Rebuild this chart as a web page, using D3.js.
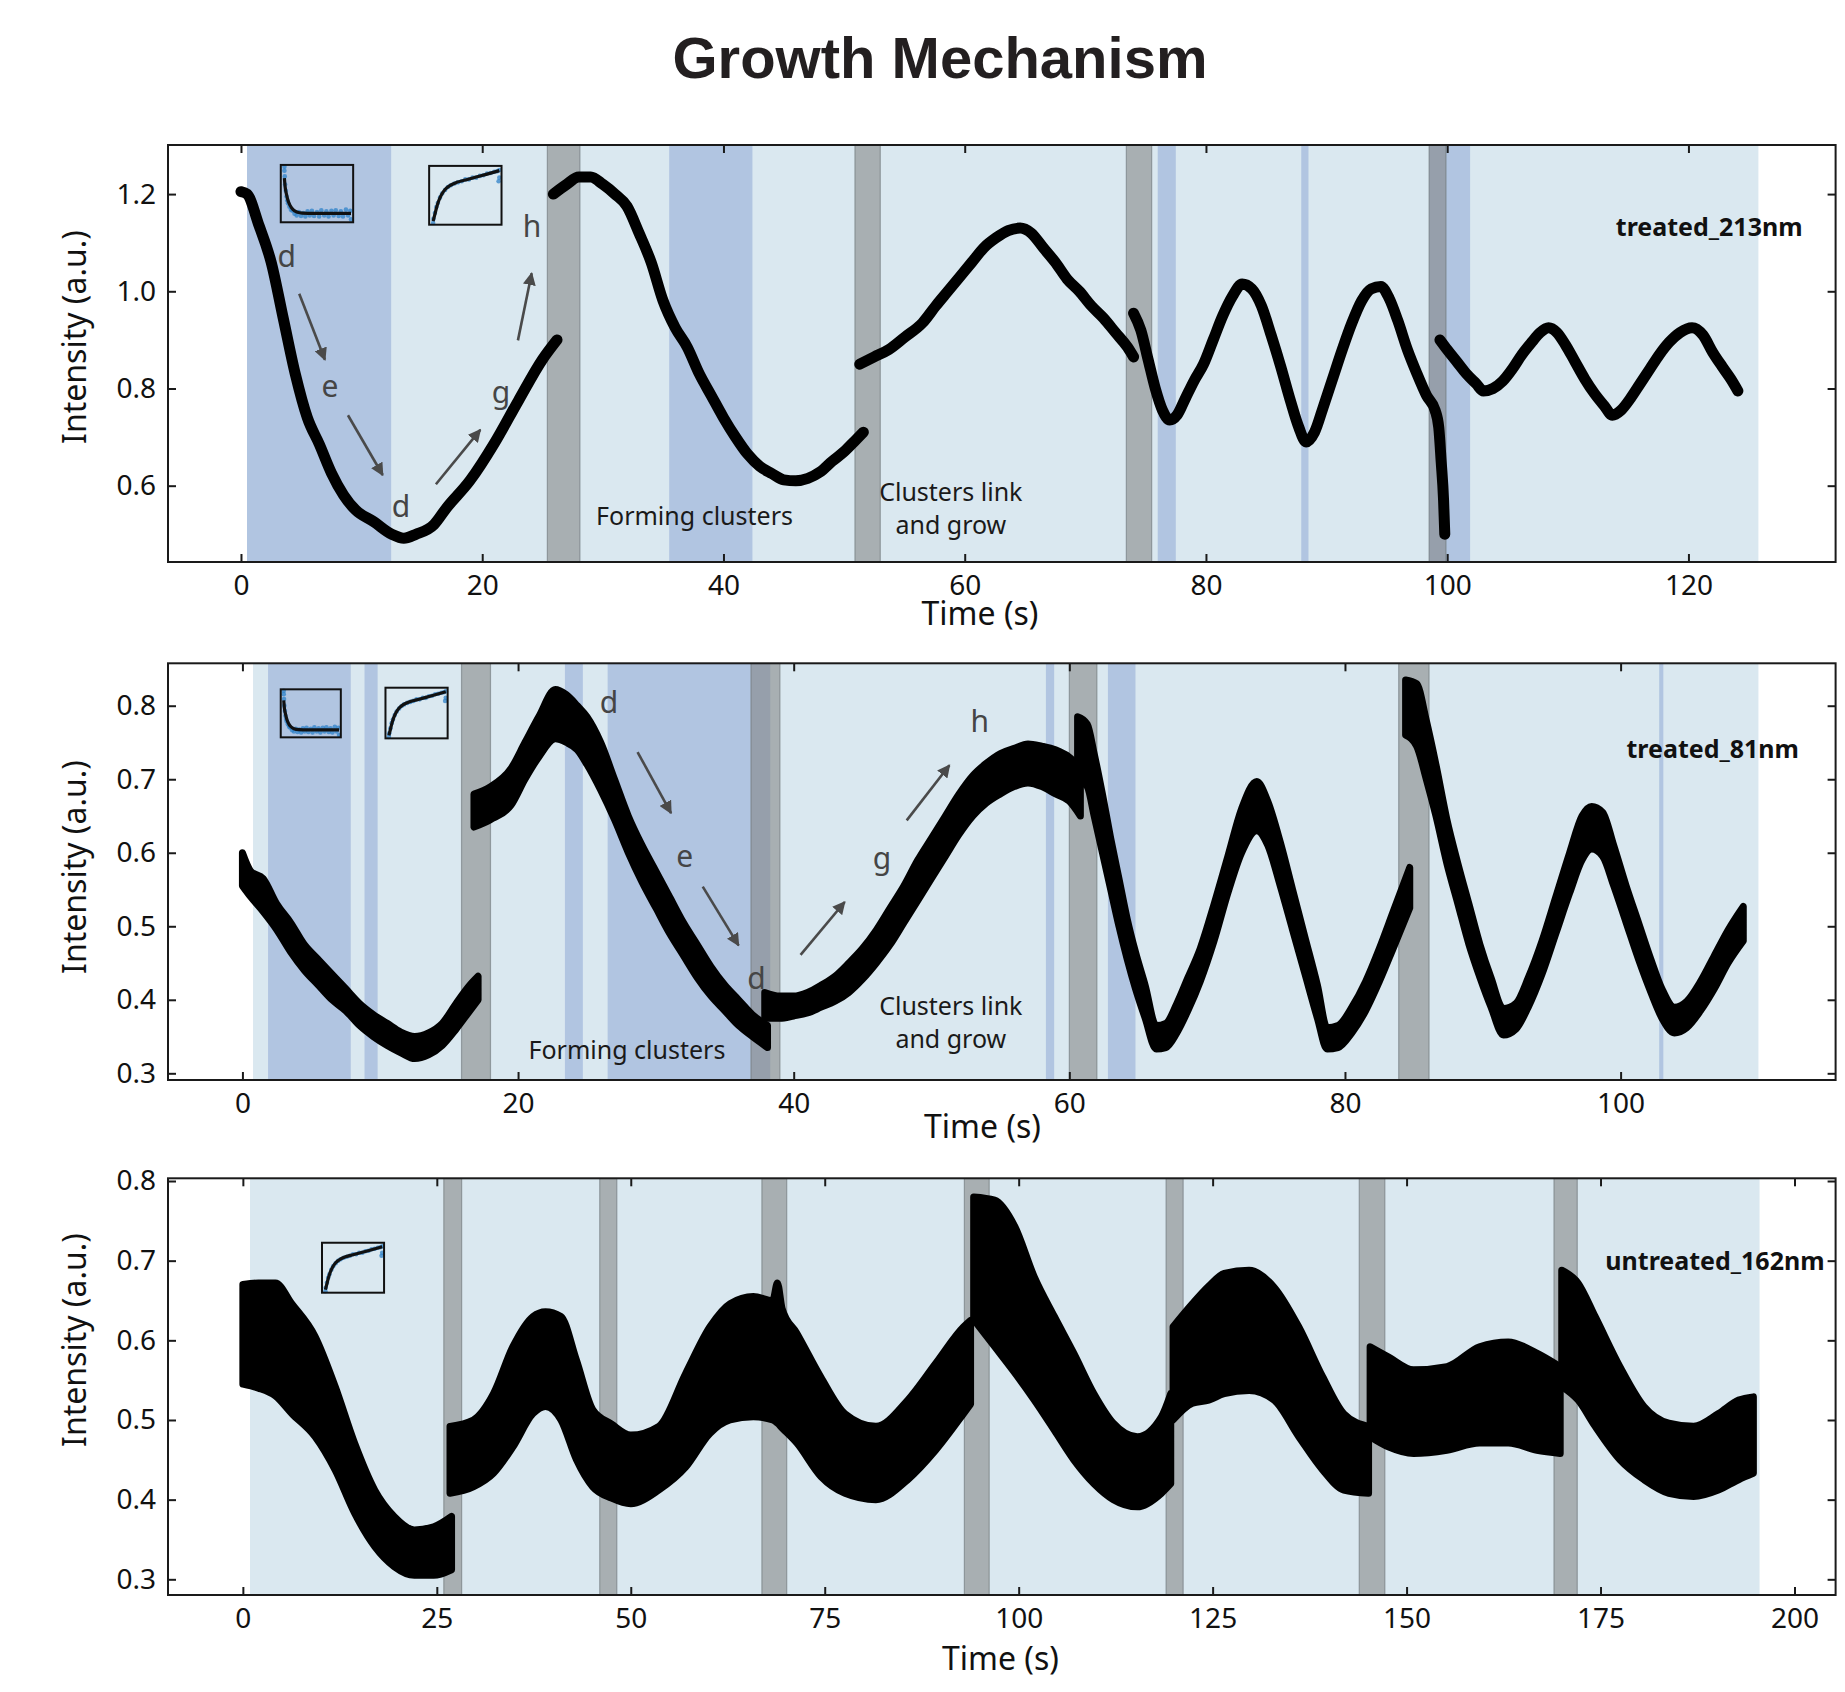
<!DOCTYPE html>
<html>
<head>
<meta charset="utf-8">
<script src="https://cdn.jsdelivr.net/npm/d3@7"></script>
<style>
  body { margin: 0; background: #fff; }
  svg text { font-family: "Noto Sans", sans-serif; }
</style>
</head>
<body>
<div id="container"></div>
<script>
/* ---------- data : treated_213nm (time, intensity) ---------- */
const p1SegA = [[0.0,1.205],[0.5,1.20],[1.5,1.135],[2.5,1.06],[3.5,0.945],[4.5,0.83],[5.5,0.74],[6.5,0.685],[7.5,0.626],[8.5,0.581],[9.5,0.55],[11.0,0.526],[12.5,0.50],[13.5,0.492],[14.5,0.50],[16.0,0.52],[17.0,0.553],[19.0,0.611],[21.0,0.687],[23.0,0.775],[25.0,0.86],[26.2,0.90]];
const p1SegB = [[25.9,1.20],[27.0,1.22],[28.0,1.235],[29.0,1.235],[30.0,1.22],[31.0,1.20],[32.0,1.175],[33.0,1.12],[34.0,1.06],[35.0,0.98],[36.0,0.925],[37.0,0.885],[38.0,0.83],[39.0,0.785],[40.0,0.74],[41.0,0.70],[42.0,0.665],[43.0,0.64],[44.0,0.625],[45.0,0.612],[46.0,0.61],[47.0,0.615],[48.0,0.628],[49.0,0.65],[50.0,0.67],[51.0,0.695],[51.6,0.71]];
const p1SegC = [[51.3,0.85],[52.5,0.865],[53.7,0.88],[55.0,0.905],[56.5,0.935],[57.6,0.97],[58.6,1.0],[59.6,1.03],[60.6,1.06],[61.6,1.09],[62.6,1.11],[63.6,1.125],[64.6,1.13],[65.5,1.12],[66.5,1.09],[67.5,1.06],[68.5,1.025],[69.5,1.0],[70.5,0.97],[71.5,0.945],[72.5,0.915],[73.5,0.885],[74.0,0.865]];
const p1SegD = [[74.0,0.955],[74.6,0.92],[75.2,0.86],[75.8,0.80],[76.4,0.755],[77.0,0.735],[77.6,0.745],[78.3,0.78],[79.0,0.815],[79.8,0.85],[80.6,0.90],[81.4,0.95],[82.2,0.99],[83.0,1.015],[83.8,1.005],[84.6,0.97],[85.4,0.91],[86.2,0.845],[87.0,0.775],[87.7,0.72],[88.3,0.69],[89.0,0.71],[89.7,0.76],[90.5,0.82],[91.3,0.88],[92.1,0.935],[92.9,0.98],[93.7,1.005],[94.5,1.01],[95.2,0.985],[95.9,0.94],[96.7,0.88],[97.5,0.83],[98.3,0.785],[99.0,0.755],[99.3,0.72],[99.5,0.65],[99.7,0.57],[99.8,0.50]];
const p1SegE = [[99.4,0.90],[100.0,0.88],[100.8,0.855],[101.6,0.83],[102.4,0.81],[103.0,0.795],[103.8,0.80],[104.6,0.815],[105.4,0.84],[106.2,0.87],[107.0,0.895],[107.7,0.915],[108.4,0.925],[109.1,0.915],[109.8,0.89],[110.6,0.855],[111.4,0.82],[112.2,0.79],[113.0,0.765],[113.7,0.745],[114.4,0.755],[115.2,0.78],[116.0,0.81],[116.8,0.84],[117.6,0.87],[118.4,0.895],[119.3,0.915],[120.3,0.925],[121.2,0.91],[122.0,0.875],[122.8,0.845],[123.5,0.82],[124.1,0.795]];

/* ---------- data : treated_81nm (time, low, high) ---------- */
const p2SegA = [[0.0,0.555,0.600],[0.6,0.540,0.575],[1.5,0.520,0.565],[2.5,0.495,0.530],[3.5,0.465,0.505],[4.5,0.440,0.475],[5.5,0.420,0.455],[6.5,0.400,0.435],[7.5,0.385,0.415],[8.5,0.365,0.395],[9.5,0.350,0.380],[10.5,0.338,0.368],[11.5,0.328,0.356],[12.5,0.320,0.350],[13.5,0.325,0.355],[14.5,0.338,0.368],[15.5,0.360,0.395],[16.5,0.385,0.420],[17.1,0.400,0.432]];
const p2SegB = [[16.8,0.635,0.680],[18.0,0.645,0.690],[19.5,0.665,0.715],[20.5,0.700,0.750],[21.5,0.730,0.785],[22.7,0.755,0.822],[23.5,0.750,0.815],[24.3,0.740,0.800],[25.0,0.720,0.785],[26.0,0.685,0.750],[27.0,0.645,0.700],[28.0,0.600,0.650],[29.0,0.560,0.610],[30.0,0.525,0.575],[31.0,0.490,0.540],[32.0,0.460,0.505],[33.0,0.430,0.475],[34.0,0.405,0.445],[35.0,0.385,0.420],[36.0,0.365,0.400],[37.0,0.350,0.380],[38.1,0.335,0.365]];
const p2SegC = [[37.9,0.375,0.410],[39.0,0.375,0.405],[40.0,0.378,0.405],[41.0,0.382,0.410],[42.0,0.390,0.420],[43.0,0.398,0.432],[44.0,0.410,0.450],[45.0,0.428,0.470],[46.0,0.450,0.495],[47.0,0.475,0.525],[48.0,0.505,0.555],[49.0,0.535,0.590],[50.0,0.565,0.620],[51.0,0.595,0.650],[52.0,0.625,0.680],[53.0,0.650,0.705],[54.0,0.668,0.722],[55.0,0.680,0.735],[56.0,0.690,0.742],[57.0,0.695,0.748],[58.0,0.690,0.745],[59.0,0.680,0.740],[60.0,0.670,0.730],[60.8,0.650,0.715]];
const p2SegD = [[60.6,0.700,0.785],[61.3,0.690,0.775],[61.8,0.650,0.735],[62.4,0.600,0.680],[63.0,0.550,0.620],[63.6,0.500,0.565],[64.2,0.455,0.510],[64.8,0.415,0.465],[65.5,0.375,0.420],[66.3,0.333,0.365],[67.0,0.335,0.368],[67.8,0.355,0.395],[68.6,0.385,0.430],[69.5,0.425,0.470],[70.5,0.480,0.530],[71.5,0.545,0.595],[72.5,0.600,0.660],[73.6,0.630,0.697],[74.4,0.610,0.670],[75.3,0.555,0.615],[76.2,0.495,0.550],[77.1,0.435,0.485],[78.0,0.375,0.420],[78.7,0.333,0.362],[79.5,0.335,0.365],[80.5,0.355,0.390],[81.5,0.385,0.425],[82.5,0.425,0.470],[83.5,0.470,0.520],[84.7,0.525,0.580]];
const p2SegE = [[84.4,0.760,0.835],[85.2,0.745,0.830],[85.9,0.700,0.780],[86.6,0.650,0.720],[87.4,0.585,0.645],[88.2,0.530,0.585],[89.0,0.475,0.530],[89.8,0.430,0.475],[90.6,0.390,0.430],[91.5,0.352,0.388],[92.4,0.360,0.395],[93.3,0.390,0.430],[94.3,0.435,0.480],[95.3,0.490,0.540],[96.3,0.545,0.600],[97.2,0.590,0.650],[97.9,0.605,0.663],[98.7,0.595,0.655],[99.5,0.555,0.610],[100.4,0.505,0.555],[101.3,0.455,0.505],[102.2,0.410,0.455],[103.0,0.375,0.415],[103.9,0.355,0.390],[104.8,0.362,0.398],[105.8,0.385,0.425],[106.8,0.415,0.460],[107.8,0.450,0.495],[108.9,0.480,0.527]];

/* ---------- data : untreated_162nm (time, low, high) ---------- */
const p3SegA = [[0.0,0.545,0.670],[2.0,0.540,0.672],[4.2,0.530,0.672],[6.3,0.508,0.646],[9.3,0.479,0.605],[11.9,0.437,0.542],[14.4,0.383,0.471],[17.0,0.341,0.412],[19.5,0.316,0.379],[22.1,0.305,0.362],[24.6,0.305,0.366],[26.9,0.312,0.379]];
const p3SegB = [[26.7,0.408,0.492],[29.7,0.416,0.500],[32.3,0.433,0.533],[34.8,0.466,0.592],[37.4,0.508,0.630],[39.0,0.517,0.636],[41.0,0.500,0.630],[43.0,0.450,0.575],[45.1,0.416,0.513],[47.5,0.402,0.495],[50.0,0.395,0.481],[53.6,0.412,0.492],[57.1,0.441,0.559],[60.2,0.483,0.617],[62.8,0.500,0.646],[65.8,0.504,0.655],[68.3,0.500,0.650],[68.9,0.496,0.672],[69.5,0.490,0.640],[71.4,0.471,0.609],[74.5,0.429,0.554],[77.6,0.408,0.508],[81.6,0.400,0.492],[85.7,0.425,0.525],[89.3,0.462,0.571],[92.9,0.508,0.617],[93.8,0.520,0.625]];
const p3SegC = [[94.2,0.626,0.780],[96.9,0.592,0.776],[99.5,0.559,0.743],[102.0,0.525,0.680],[104.6,0.487,0.630],[107.1,0.450,0.584],[109.7,0.420,0.533],[112.2,0.400,0.496],[115.3,0.391,0.479],[118.4,0.408,0.504],[119.6,0.420,0.533]];
const p3SegD = [[119.9,0.500,0.617],[122.4,0.521,0.646],[124.5,0.525,0.668],[126.5,0.533,0.684],[129.7,0.537,0.688],[132.9,0.525,0.667],[136.1,0.479,0.617],[139.2,0.437,0.554],[141.9,0.412,0.508],[145.1,0.408,0.492]];
const p3SegE = [[145.3,0.479,0.592],[147.7,0.466,0.579],[150.9,0.458,0.563],[155.2,0.462,0.567],[159.4,0.471,0.592],[163.1,0.471,0.598],[166.8,0.462,0.584],[169.8,0.458,0.567]];
const p3SegF = [[170.0,0.542,0.688],[172.1,0.525,0.672],[174.3,0.492,0.630],[177.5,0.450,0.567],[180.6,0.425,0.517],[183.8,0.408,0.496],[187.0,0.404,0.492],[190.2,0.412,0.508],[192.8,0.425,0.525],[194.7,0.433,0.529]];

/* ---------- shaded time spans ---------- */
const p1Light = [0.5, 125.8];
const p1Blue = [[0.5,12.45],[35.5,42.4],[76.0,77.5],[87.9,88.5],[98.5,101.9]];
const p1Gray = [[25.4,28.1],[50.9,53.0],[73.4,75.5],[98.5,99.9]];
const p2Light = [0.77, 110.0];
const p2Blue = [[1.86,7.86],[8.86,9.81],[23.4,24.7],[26.5,38.3],[58.3,58.9],[62.8,64.8],[102.8,103.1]];
const p2Gray = [[15.9,18.0],[36.9,39.0],[60.0,62.0],[83.9,86.1]];
const p3Light = [0.92, 195.5];
const p3Blue = [];
const p3Gray = [[25.9,28.2],[46.0,48.2],[66.9,70.1],[93.0,96.2],[119.0,121.2],[143.9,147.2],[169.0,172.0]];

/* ---------- inset fits (normalised 0..1) ---------- */
const decayFit = [[0.05,0.77],[0.06,0.62],[0.08,0.48],[0.10,0.38],[0.13,0.29],[0.17,0.22],[0.22,0.18],[0.30,0.16],[0.45,0.155],[0.70,0.155],[0.97,0.155]];
const decayDots = [[0.05,0.97],[0.05,0.90],[0.055,0.80],[0.06,0.66],[0.07,0.55],[0.08,0.45],[0.09,0.38],[0.10,0.33],[0.12,0.27],[0.14,0.22],[0.16,0.20],[0.19,0.15],[0.22,0.12],[0.25,0.18],[0.28,0.11],[0.31,0.16],[0.34,0.10],[0.37,0.19],[0.40,0.12],[0.43,0.20],[0.46,0.11],[0.50,0.18],[0.53,0.10],[0.56,0.21],[0.60,0.12],[0.63,0.19],[0.66,0.10],[0.70,0.20],[0.73,0.12],[0.76,0.21],[0.80,0.11],[0.83,0.19],[0.86,0.10],[0.90,0.22],[0.93,0.12],[0.96,0.20],[0.97,0.05]];
const riseFit = [[0.055,0.06],[0.08,0.18],[0.10,0.28],[0.13,0.40],[0.17,0.51],[0.22,0.60],[0.28,0.66],[0.38,0.72],[0.50,0.76],[0.65,0.81],[0.80,0.86],[0.97,0.92]];
const riseDots = [[0.055,0.03],[0.06,0.10],[0.08,0.20],[0.10,0.30],[0.12,0.37],[0.15,0.46],[0.18,0.53],[0.22,0.59],[0.26,0.64],[0.30,0.67],[0.35,0.70],[0.40,0.72],[0.45,0.74],[0.50,0.77],[0.55,0.77],[0.60,0.80],[0.65,0.80],[0.70,0.83],[0.75,0.84],[0.80,0.87],[0.85,0.88],[0.90,0.90],[0.94,0.91],[0.97,0.93],[0.97,0.80],[0.96,0.74]];

/* ---------- figure ---------- */
const W = 1845, H = 1692;
const L = 168, R = 1835.6;
const colLight = "#dae8f0", colBlue = "#b1c5e1";

const svg = d3.select("#container").append("svg")
  .attr("width", W).attr("height", H)
  .style("background", "#fff");

const defs = svg.append("defs");
defs.append("marker")
  .attr("id", "arrow")
  .attr("viewBox", "0 0 10 10")
  .attr("refX", 9).attr("refY", 5)
  .attr("markerWidth", 5).attr("markerHeight", 5)
  .attr("markerUnits", "strokeWidth")
  .attr("orient", "auto")
  .append("path").attr("d", "M0,0 L10,5 L0,10 z").attr("fill", "#4a4a4a");

svg.append("text")
  .attr("x", 940).attr("y", 78)
  .attr("text-anchor", "middle")
  .style("font-family", "'Liberation Sans', Arial, sans-serif")
  .style("font-weight", "bold")
  .style("font-size", "58px")
  .style("fill", "#231f20")
  .text("Growth Mechanism");

const panels = [
  {
    id: "p1", label: "treated_213nm", top: 145, bottom: 562,
    xDom: [-6.05, 132.2], yDom: [0.443, 1.301],
    xTicks: d3.range(0, 121, 20), yTicks: [0.6, 0.8, 1.0, 1.2],
    light: p1Light, blue: p1Blue, gray: p1Gray,
    lines: [p1SegA, p1SegB, p1SegC, p1SegD, p1SegE], bands: [],
    labelPos: { dx: 33, dy: 91 },
    ylabelY: 337, xlabelX: 980, xlabelY: 625,
    insets: [
      { kind: "decay", x: [3.3, 9.3], y: [1.142, 1.26] },
      { kind: "rise", x: [15.6, 21.6], y: [1.137, 1.258] }
    ],
    letters: [["d",3.79,1.0715],["e",7.38,0.804],["d",13.26,0.557],["g",21.55,0.791],["h",24.12,1.133]],
    arrows: [[4.83,0.995,6.96,0.859],[8.87,0.745,11.75,0.622],[16.16,0.603,19.84,0.715],[22.96,0.899,24.1,1.037]],
    notes: [[["Forming clusters"], 37.6, 0.519], [["Clusters link", "and grow"], 58.85, 0.569]]
  },
  {
    id: "p2", label: "treated_81nm", top: 663.3, bottom: 1080,
    xDom: [-5.4, 115.6], yDom: [0.2909, 0.8577],
    xTicks: d3.range(0, 101, 20), yTicks: [0.3, 0.4, 0.5, 0.6, 0.7, 0.8],
    light: p2Light, blue: p2Blue, gray: p2Gray,
    lines: [], bands: [p2SegA, p2SegB, p2SegC, p2SegD, p2SegE],
    labelPos: { dx: 36.6, dy: 95 },
    ylabelY: 867, xlabelX: 982.5, xlabelY: 1138,
    insets: [
      { kind: "decay", x: [2.78, 7.14], y: [0.757, 0.8223] },
      { kind: "rise", x: [10.38, 14.89], y: [0.7556, 0.8245] }
    ],
    letters: [["d",26.6,0.804],["e",32.1,0.595],["d",37.3,0.429],["g",46.4,0.592],["h",53.5,0.778]],
    arrows: [[28.67,0.737,31.1,0.654],[33.4,0.554,36.0,0.474],[40.5,0.461,43.7,0.533],[48.2,0.644,51.3,0.719]],
    notes: [[["Forming clusters"], 27.9, 0.320], [["Clusters link", "and grow"], 51.4, 0.379]]
  },
  {
    id: "p3", label: "untreated_162nm", top: 1178.3, bottom: 1595,
    xDom: [-9.65, 205.3], yDom: [0.2803, 0.8034],
    xTicks: d3.range(0, 201, 25), yTicks: [0.3, 0.4, 0.5, 0.6, 0.7, 0.8],
    light: p3Light, blue: p3Blue, gray: p3Gray,
    lines: [], bands: [p3SegA, p3SegB, p3SegC, p3SegD, p3SegE, p3SegF],
    labelPos: { dx: 11, dy: 92 },
    ylabelY: 1340, xlabelX: 1000.4, xlabelY: 1670,
    insets: [ { kind: "rise", x: [10.2, 18.2], y: [0.6598, 0.7225] } ],
    letters: [], arrows: [], notes: []
  }
];

panels.forEach(function(p) {
  const x = d3.scaleLinear().domain(p.xDom).range([L, R]);
  const y = d3.scaleLinear().domain(p.yDom).range([p.bottom, p.top]);
  const h = p.bottom - p.top;
  const g = svg.append("g").attr("id", p.id);

  g.append("clipPath").attr("id", "clip-" + p.id)
    .append("rect").attr("x", L).attr("y", p.top).attr("width", R - L).attr("height", h);
  const plot = g.append("g").attr("clip-path", "url(#clip-" + p.id + ")");

  /* shaded spans */
  plot.append("rect")
    .attr("x", x(p.light[0])).attr("width", x(p.light[1]) - x(p.light[0]))
    .attr("y", p.top).attr("height", h)
    .attr("fill", colLight);
  plot.selectAll("rect.blue").data(p.blue).enter().append("rect")
    .attr("class", "blue")
    .attr("x", function(d){ return x(d[0]); })
    .attr("width", function(d){ return x(d[1]) - x(d[0]); })
    .attr("y", p.top).attr("height", h)
    .attr("fill", colBlue);
  plot.selectAll("rect.gray").data(p.gray).enter().append("rect")
    .attr("class", "gray")
    .attr("x", function(d){ return x(d[0]); })
    .attr("width", function(d){ return x(d[1]) - x(d[0]); })
    .attr("y", p.top - 2).attr("height", h + 4)
    .attr("fill", "#808080").attr("fill-opacity", 0.55)
    .attr("stroke", "#6e767a").attr("stroke-opacity", 0.6).attr("stroke-width", 1.2);

  /* traces */
  const line = d3.line().curve(d3.curveMonotoneX)
    .x(function(d){ return x(d[0]); }).y(function(d){ return y(d[1]); });
  plot.selectAll("path.trace").data(p.lines).enter().append("path")
    .attr("class", "trace")
    .attr("d", line)
    .attr("fill", "none").attr("stroke", "#000")
    .attr("stroke-width", 11)
    .attr("stroke-linecap", "round").attr("stroke-linejoin", "round");

  const area = d3.area().curve(d3.curveMonotoneX)
    .x(function(d){ return x(d[0]); })
    .y0(function(d){ return y(d[1]); })
    .y1(function(d){ return y(d[2]); });
  plot.selectAll("path.band").data(p.bands).enter().append("path")
    .attr("class", "band")
    .attr("d", area)
    .attr("fill", "#000").attr("stroke", "#000")
    .attr("stroke-width", 7)
    .attr("stroke-linejoin", "round");

  /* insets */
  p.insets.forEach(function(ins) {
    const ix = d3.scaleLinear().domain([0, 1]).range([x(ins.x[0]), x(ins.x[1])]);
    const iy = d3.scaleLinear().domain([0, 1]).range([y(ins.y[0]), y(ins.y[1])]);
    const fit = ins.kind === "decay" ? decayFit : riseFit;
    const dots = ins.kind === "decay" ? decayDots : riseDots;
    g.selectAll(null).data(dots).enter().append("circle")
      .attr("cx", function(d){ return ix(d[0]); })
      .attr("cy", function(d){ return iy(d[1]); })
      .attr("r", 2.3)
      .attr("fill", "#2f82c8").attr("fill-opacity", 0.75);
    g.append("path")
      .attr("d", d3.line().curve(d3.curveMonotoneX).x(function(d){ return ix(d[0]); }).y(function(d){ return iy(d[1]); })(fit))
      .attr("fill", "none").attr("stroke", "#111").attr("stroke-width", 3.2);
    g.append("rect")
      .attr("x", ix(0)).attr("y", iy(1))
      .attr("width", ix(1) - ix(0)).attr("height", iy(0) - iy(1))
      .attr("fill", "none").attr("stroke", "#111").attr("stroke-width", 2);
  });

  /* annotation letters and arrows */
  g.selectAll("text.letter").data(p.letters).enter().append("text")
    .attr("class", "letter")
    .attr("x", function(d){ return x(d[1]); })
    .attr("y", function(d){ return y(d[2]); })
    .attr("text-anchor", "middle")
    .attr("dy", "0.35em")
    .style("font-size", "30px")
    .style("fill", "#454545")
    .text(function(d){ return d[0]; });

  g.selectAll("line.arrow").data(p.arrows).enter().append("line")
    .attr("class", "arrow")
    .attr("x1", function(d){ return x(d[0]); })
    .attr("y1", function(d){ return y(d[1]); })
    .attr("x2", function(d){ return x(d[2]); })
    .attr("y2", function(d){ return y(d[3]); })
    .attr("stroke", "#4a4a4a").attr("stroke-width", 2.6)
    .attr("marker-end", "url(#arrow)");

  p.notes.forEach(function(n) {
    n[0].forEach(function(s, i) {
      g.append("text")
        .attr("x", x(n[1])).attr("y", y(n[2]) + i * 33)
        .attr("text-anchor", "middle")
        .style("font-size", "25px")
        .style("fill", "#1a1a1a")
        .text(s);
    });
  });

  /* series label */
  g.append("text")
    .attr("x", R - p.labelPos.dx).attr("y", p.top + p.labelPos.dy)
    .attr("text-anchor", "end")
    .style("font-size", "25px").style("font-weight", "bold")
    .style("fill", "#111")
    .text(p.label);

  /* axes: inward ticks on all sides */
  const xb = g.append("g").attr("transform", "translate(0," + p.bottom + ")")
    .call(d3.axisBottom(x).tickValues(p.xTicks).tickSize(-8).tickPadding(13).tickFormat(d3.format("d")));
  const xt = g.append("g").attr("transform", "translate(0," + p.top + ")")
    .call(d3.axisTop(x).tickValues(p.xTicks).tickSize(-8).tickFormat(""));
  const yl = g.append("g").attr("transform", "translate(" + L + ",0)")
    .call(d3.axisLeft(y).tickValues(p.yTicks).tickSize(-8).tickPadding(12).tickFormat(d3.format(".1f")));
  const yr = g.append("g").attr("transform", "translate(" + R + ",0)")
    .call(d3.axisRight(y).tickValues(p.yTicks).tickSize(-8).tickFormat(""));
  [xb, xt, yl, yr].forEach(function(a) {
    a.select(".domain").remove();
    a.selectAll("line").attr("stroke", "#1a1a1a").attr("stroke-width", 2);
    a.selectAll("text").style("font-size", "28px").style("fill", "#111")
      .style("font-family", "'Noto Sans', sans-serif");
  });

  g.append("rect")
    .attr("x", L).attr("y", p.top).attr("width", R - L).attr("height", h)
    .attr("fill", "none").attr("stroke", "#1a1a1a").attr("stroke-width", 2);

  /* axis titles */
  g.append("text")
    .attr("transform", "translate(86," + p.ylabelY + ") rotate(-90)")
    .attr("text-anchor", "middle")
    .style("font-size", "32px").style("fill", "#111")
    .text("Intensity (a.u.)");
  g.append("text")
    .attr("x", p.xlabelX).attr("y", p.xlabelY)
    .attr("text-anchor", "middle")
    .style("font-size", "32px").style("fill", "#111")
    .text("Time (s)");
});
</script>
</body>
</html>
